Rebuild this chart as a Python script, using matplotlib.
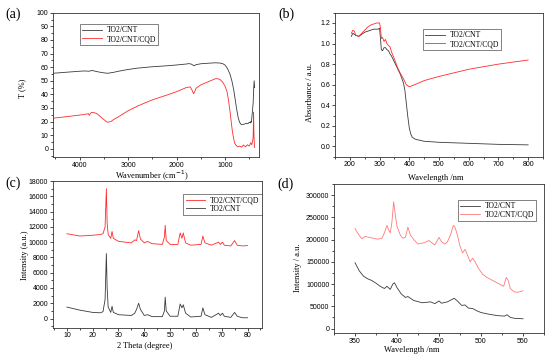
import matplotlib
matplotlib.use("Agg")
import matplotlib.pyplot as plt
from matplotlib.ticker import MultipleLocator

# ---------------- data ----------------
# (a) FTIR
ftir_cnt_x = [4550, 4300, 4000, 3900, 3800, 3750, 3700, 3600, 3500, 3420, 3300, 3200, 3000, 2800,
              2500, 2200, 2000, 1800, 1750, 1700, 1640, 1600, 1500, 1300, 1200, 1100, 1050, 1000,
              950, 900, 860, 820, 790, 760, 730, 700, 670, 640, 600, 560, 530, 500, 480, 470, 460,
              450, 440, 430, 420, 410, 400, 390]
ftir_cnt_y = [55.5, 56.2, 57.0, 57.2, 57.0, 57.6, 57.2, 56.4, 55.8, 55.5, 56.2, 57.0, 58.3, 59.3,
              60.3, 61.0, 61.6, 62.3, 62.6, 62.3, 61.0, 61.8, 62.5, 63.0, 63.2, 63.0, 62.6, 61.5,
              59.0, 55.0, 50.0, 43.0, 36.0, 29.0, 23.0, 19.5, 18.0, 17.8, 18.2, 18.8, 18.4, 19.5,
              19.0, 20.0, 19.5, 22.0, 26.0, 30.0, 34.0, 44.0, 50.0, 45.0]
ftir_cqd_x = [4550, 4300, 4000, 3900, 3820, 3800, 3780, 3750, 3700, 3650, 3600, 3550, 3500, 3450,
              3420, 3350, 3300, 3200, 3000, 2800, 2700, 2500, 2200, 2000, 1800, 1720, 1680, 1650,
              1620, 1600, 1500, 1400, 1300, 1200, 1150, 1100, 1050, 1000, 960, 930, 900, 870, 850,
              820, 800, 770, 740, 700, 660, 620, 580, 540, 500, 470, 450, 430, 420, 412, 405, 400, 392]
ftir_cqd_y = [22.5, 23.5, 24.8, 25.3, 25.8, 24.6, 26.0, 26.8, 26.5, 26.0, 24.5, 23.0, 21.5, 20.0,
              19.5, 20.2, 21.5, 23.5, 28.0, 31.5, 33.0, 36.0, 39.5, 42.0, 45.0, 45.5, 43.0, 40.5,
              42.5, 44.5, 47.0, 48.5, 50.0, 51.5, 51.5, 50.8, 49.0, 46.0, 42.0, 36.0, 28.0, 19.0, 13.0,
              7.0, 4.0, 2.5, 1.5, 2.0, 1.2, 2.8, 1.5, 3.0, 2.0, 4.5, 3.0, 6.0, 9.0, 27.0, 12.0, 6.0, 1.0]

# (b) UV-vis
uv_cnt_x = [205, 210, 215, 220, 230, 240, 250, 260, 270, 280, 290, 295, 300, 303, 306, 310, 315,
            320, 325, 330, 335, 340, 350, 360, 370, 380, 385, 390, 395, 400, 405, 410, 420, 450,
            500, 600, 700, 800]
uv_cnt_y = [1.07, 1.10, 1.09, 1.08, 1.07, 1.09, 1.11, 1.12, 1.13, 1.14, 1.14, 1.14, 1.15, 1.05,
            0.94, 0.93, 0.96, 0.96, 0.94, 0.93, 0.90, 0.88, 0.82, 0.76, 0.70, 0.62, 0.55, 0.42,
            0.29, 0.18, 0.12, 0.09, 0.07, 0.05, 0.04, 0.03, 0.02, 0.015]
uv_cqd_x = [205, 210, 215, 220, 230, 240, 250, 260, 270, 280, 290, 300, 303, 306, 310, 315, 320,
            325, 330, 335, 340, 350, 360, 370, 380, 390, 400, 410, 450, 500, 600, 700, 800]
uv_cqd_y = [1.10, 1.13, 1.12, 1.08, 1.07, 1.10, 1.13, 1.16, 1.18, 1.19, 1.20, 1.20, 1.15, 1.05,
            1.06, 1.02, 1.04, 1.00, 0.98, 0.97, 0.92, 0.85, 0.77, 0.71, 0.66, 0.60, 0.58, 0.59,
            0.64, 0.68, 0.75, 0.80, 0.84]

# (c) XRD
xrd_x = [10, 15, 20, 23, 24, 24.8, 25.3, 25.6, 26.0, 27.0, 27.5, 28.0, 30, 35, 36.3, 37.0, 37.8,
         38.5, 40, 41.3, 43, 47, 47.8, 48.1, 48.5, 50, 53, 53.9, 54.6, 55.1, 56, 58, 62, 62.7,
         63.5, 66, 68.8, 69.5, 70.3, 71, 73.5, 75, 76, 78, 80]
xrd_cnt_y = [1500, 1100, 800, 750, 900, 2500, 8500, 4000, 1500, 800, 1600, 800, 500, 400, 700,
             1200, 2000, 1200, 400, 500, 250, 250, 1000, 2800, 1000, 300, 300, 1900, 1400, 1800,
             700, 200, 300, 1400, 500, 150, 700, 400, 700, 300, 150, 800, 300, 100, 100]
xrd_cqd_y = [11100, 10800, 10900, 11000, 11100, 12000, 17000, 12500, 11000, 10500, 11400, 10500,
             10100, 9900, 10300, 10200, 11500, 10400, 9900, 10100, 9800, 9700, 10700, 12200, 10200,
             9700, 9700, 11200, 10500, 11200, 9900, 9600, 9700, 10800, 9900, 9600, 10000, 9700,
             10000, 9600, 9500, 10200, 9600, 9500, 9550]

# (d) PL
pl_cqd_x = [350, 353, 358, 362, 367, 372, 377, 382, 385, 388, 390, 392, 394, 396, 398, 400, 404,
            407, 410, 413, 416, 420, 425, 430, 435, 438, 442, 445, 448, 450, 453, 457, 460, 464,
            467, 469, 472, 475, 478, 481, 484, 487, 490, 493, 497, 502, 507, 512, 517, 522, 527,
            530, 532, 535, 540, 545, 550]
pl_cqd_y = [225000, 215000, 202000, 207000, 205000, 203000, 201000, 203000, 215000, 232000,
            222000, 215000, 240000, 285000, 255000, 230000, 210000, 203000, 205000, 228000, 210000,
            200000, 190000, 192000, 195000, 198000, 192000, 188000, 198000, 205000, 195000, 190000,
            195000, 212000, 232000, 228000, 210000, 185000, 170000, 178000, 165000, 150000, 158000,
            150000, 135000, 122000, 115000, 110000, 105000, 100000, 95000, 115000, 110000, 90000,
            82000, 82000, 85000]
pl_cnt_x = [350, 355, 360, 365, 370, 375, 380, 385, 388, 392, 395, 397, 400, 405, 410, 413, 416,
            420, 430, 440, 445, 450, 453, 460, 465, 468, 472, 477, 481, 485, 490, 495, 500, 510,
            520, 528, 531, 535, 540, 550]
pl_cnt_y = [148000, 130000, 118000, 112000, 108000, 102000, 95000, 90000, 95000, 88000, 100000,
            103000, 92000, 78000, 70000, 72000, 68000, 63000, 58000, 60000, 56000, 62000, 57000,
            60000, 65000, 68000, 62000, 52000, 53000, 46000, 45000, 40000, 36000, 32000, 29000,
            28000, 31000, 25000, 23000, 22000]

lab_cnt = "TO2/CNT"
lab_cqd = "TO2/CNT/CQD"

# ---------------- figure ----------------
W, H = 550, 355
fig = plt.figure(figsize=(W / 100, H / 100), dpi=100)

def box(l, t, r, b):
    return [l / W, 1 - b / H, (r - l) / W, (b - t) / H]

def fpos(x, y):
    return x / W, 1 - y / H

SERIF = "Liberation Serif"
SANS = "Liberation Sans"
BLACK = "#3a3a3a"
RED = "#ff2a2a"
PINK = "#ff7a7a"

def style(ax, xmaj, xmin, ymaj, ymin):
    ax.xaxis.set_major_locator(MultipleLocator(xmaj))
    ax.xaxis.set_minor_locator(MultipleLocator(xmin))
    ax.yaxis.set_major_locator(MultipleLocator(ymaj))
    ax.yaxis.set_minor_locator(MultipleLocator(ymin))
    ax.tick_params(which="major", direction="out", length=2.2, width=0.5, labelsize=5,
                   pad=1.2, top=False, right=False)
    ax.tick_params(which="minor", direction="out", length=1.2, width=0.5, top=False, right=False)
    for lab in ax.get_xticklabels() + ax.get_yticklabels():
        lab.set_fontfamily(SANS)
    for s in ax.spines.values():
        s.set_linewidth(0.6)
        s.set_color("#333333")

def legend(ax, handles_order, loc, anchor):
    leg = ax.legend(handles=handles_order, loc=loc, bbox_to_anchor=anchor, borderaxespad=0,
                    prop={"family": SERIF, "size": 5.5}, frameon=True, fancybox=False,
                    handlelength=2.6, handletextpad=0.6, borderpad=0.3, labelspacing=0.1)
    leg.get_frame().set_edgecolor("#222222")
    leg.get_frame().set_linewidth(0.5)

# (a)
axa = fig.add_axes(box(53, 12.7, 259, 157))
la1, = axa.plot(ftir_cnt_x, ftir_cnt_y, color=BLACK, lw=0.6, label=lab_cnt)
la2, = axa.plot(ftir_cqd_x, ftir_cqd_y, color=RED, lw=0.6, label=lab_cqd)
axa.set_xlim(4550, 300)
axa.set_ylim(-6, 100)
style(axa, 1000, 500, 10, 5)
legend(axa, [la1, la2], "upper left", (0.131, 0.922))

# (b)
axb = fig.add_axes(box(335, 12.7, 543, 156.7))
lb1, = axb.plot(uv_cnt_x, uv_cnt_y, color=BLACK, lw=0.6, label=lab_cnt)
lb2, = axb.plot(uv_cqd_x, uv_cqd_y, color=RED, lw=0.6, label=lab_cqd)
axb.set_xlim(150, 850)
axb.set_ylim(-0.1, 1.3)
style(axb, 100, 50, 0.2, 0.1)
legend(axb, [lb1, lb2], "upper left", (0.423, 0.887))

# (c)
axc = fig.add_axes(box(52.7, 181, 261.7, 327.7))
lc1, = axc.plot(xrd_x, xrd_cnt_y, color=BLACK, lw=0.6, label=lab_cnt)
lc2, = axc.plot(xrd_x, xrd_cqd_y, color=RED, lw=0.6, label=lab_cqd)
axc.set_xlim(4.5, 85.5)
axc.set_ylim(-1200, 18000)
style(axc, 10, 5, 2000, 1000)
legend(axc, [lc2, lc1], "upper right", (1.0, 0.911))

# (d)
axd = fig.add_axes(box(334, 184, 544, 333))
ld1, = axd.plot(pl_cnt_x, pl_cnt_y, color=BLACK, lw=0.6, label=lab_cnt)
ld2, = axd.plot(pl_cqd_x, pl_cqd_y, color=PINK, lw=0.6, label=lab_cqd)
axd.set_xlim(325, 575)
axd.set_ylim(-10000, 325000)
axd.ticklabel_format(axis="y", style="plain")
style(axd, 50, 25, 50000, 25000)
legend(axd, [ld1, ld2], "upper left", (0.590, 0.893))

# axis labels
lf = {"family": SERIF, "size": 6}
fig.text(*fpos(152, 175.5), "Wavenumber (cm$^{-1}$)", ha="center", va="center", fontdict=lf)
fig.text(*fpos(22, 88), "T (%)", ha="center", va="center", rotation=90, fontdict=lf)
fig.text(*fpos(436, 178), "Wavelength /nm", ha="center", va="center", fontdict=lf)
fig.text(*fpos(310, 92), "Absorbance / a.u.", ha="center", va="center", rotation=90, fontdict=lf)
fig.text(*fpos(145, 346), "2 Theta (degree)", ha="center", va="center", fontdict=lf)
fig.text(*fpos(25, 255), "Intensity (a.u.)", ha="center", va="center", rotation=90, fontdict=lf)
fig.text(*fpos(412, 349.5), "Wavelength /nm", ha="center", va="center", fontdict=lf)
fig.text(*fpos(298, 268), "Intensity / a.u.", ha="center", va="center", rotation=90, fontdict=lf)

# panel labels
pf = {"family": SERIF, "size": 10}
fig.text(*fpos(13.5, 14), "(a)", ha="center", va="center", fontdict=pf)
fig.text(*fpos(286, 14), "(b)", ha="center", va="center", fontdict=pf)
fig.text(*fpos(13.5, 183), "(c)", ha="center", va="center", fontdict=pf)
fig.text(*fpos(286, 184), "(d)", ha="center", va="center", fontdict=pf)

fig.savefig("out.png", dpi=100)
